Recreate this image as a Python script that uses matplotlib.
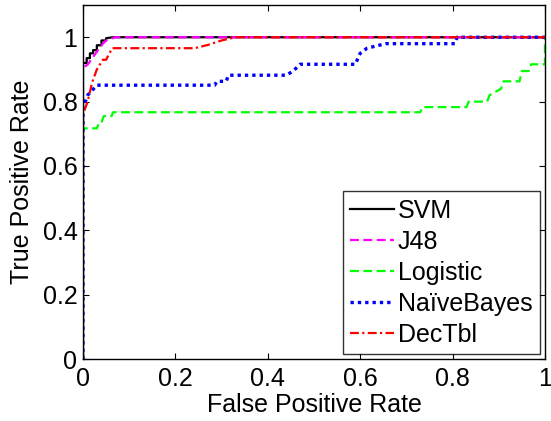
import matplotlib
matplotlib.use('Agg')
import matplotlib.pyplot as plt

plt.rcParams['font.family'] = ['Liberation Sans', 'DejaVu Sans']

# ROC points (false positive rate, true positive rate) per classifier
svm_fpr = [0, 0, 0.008, 0.008, 0.015, 0.015, 0.022, 0.022, 0.03, 0.03, 0.04, 0.04, 0.05, 0.05, 0.065, 1.0]
svm_tpr = [0, 0.92, 0.92, 0.935, 0.935, 0.95, 0.95, 0.96, 0.96, 0.975, 0.975, 0.99, 0.99, 0.997, 1.0, 1.0]

j48_fpr = [0, 0, 0.01, 0.02, 0.03, 0.04, 0.05, 0.07, 1.0]
j48_tpr = [0, 0.905, 0.915, 0.935, 0.955, 0.975, 0.99, 1.0, 1.0]

log_fpr = [0, 0, 0.03, 0.035, 0.04, 0.045, 0.062, 0.065, 0.73, 0.735, 0.83, 0.835, 0.875, 0.88, 0.905, 0.91,
           0.945, 0.95, 0.965, 0.97, 0.995, 1.0, 1.0]
log_tpr = [0, 0.717, 0.717, 0.735, 0.735, 0.755, 0.755, 0.767, 0.767, 0.783, 0.783, 0.8, 0.8, 0.82, 0.84, 0.863,
           0.863, 0.895, 0.895, 0.916, 0.916, 0.916, 1.0]

nb_fpr = [0, 0, 0.005, 0.01, 0.02, 0.03, 0.285, 0.29, 0.31, 0.315, 0.44, 0.455, 0.47, 0.59, 0.595, 0.6,
          0.615, 0.655, 0.805, 0.81, 1.0]
nb_tpr = [0, 0.77, 0.8, 0.82, 0.835, 0.851, 0.851, 0.863, 0.863, 0.882, 0.882, 0.895, 0.916, 0.916, 0.935,
          0.95, 0.966, 0.98, 0.98, 1.0, 1.0]

dt_fpr = [0, 0, 0.005, 0.01, 0.02, 0.03, 0.043, 0.05, 0.063, 0.242, 0.27, 0.3, 0.33, 1.0]
dt_tpr = [0, 0.76, 0.78, 0.8, 0.86, 0.9, 0.93, 0.93, 0.966, 0.966, 0.976, 0.99, 1.0, 1.0]

fig = plt.figure(figsize=(5.51, 4.21), dpi=100)
ax = fig.add_axes([0.1506, 0.147, 0.8384, 0.841])

ax.plot(svm_fpr, svm_tpr, color='black', lw=1.6, label='SVM')
ax.plot(j48_fpr, j48_tpr, color='magenta', lw=1.6, ls=(0, (4, 2)), label='J48')
ax.plot(log_fpr, log_tpr, color='#00ff00', lw=1.6, ls=(0, (4, 2)), label='Logistic')
ax.plot(nb_fpr, nb_tpr, color='blue', lw=2.4, ls=(0, (1, 1.2)), label='NaïveBayes')
ax.plot(dt_fpr, dt_tpr, color='red', lw=1.6, ls=(0, (4, 1.5, 1, 1.5)), label='DecTbl')

ax.set_xlim(0, 1)
ax.set_ylim(0, 1.1)
ax.set_xticks([0, 0.2, 0.4, 0.6, 0.8, 1])
ax.set_xticklabels(['0', '0.2', '0.4', '0.6', '0.8', '1'])
ax.set_yticks([0, 0.2, 0.4, 0.6, 0.8, 1])
ax.set_yticklabels(['0', '0.2', '0.4', '0.6', '0.8', '1'])
ax.tick_params(direction='in', length=4, width=0.8, top=True, right=True, labelsize=18)
ax.tick_params(axis='x', pad=6)
ax.tick_params(axis='y', pad=4)
for s in ax.spines.values():
    s.set_linewidth(1.0)

ax.set_xlabel('False Positive Rate', fontsize=18, labelpad=1)
ax.set_ylabel('True Positive Rate', fontsize=18, labelpad=6)

leg = ax.legend(loc='lower right', fontsize=18, frameon=True, fancybox=False, borderaxespad=0.2,
                handlelength=1.75, handletextpad=0.15, labelspacing=0.28, borderpad=0.3)
leg.get_frame().set_edgecolor('black')
leg.get_frame().set_linewidth(1.0)

fig.savefig('out.png', dpi=100)
